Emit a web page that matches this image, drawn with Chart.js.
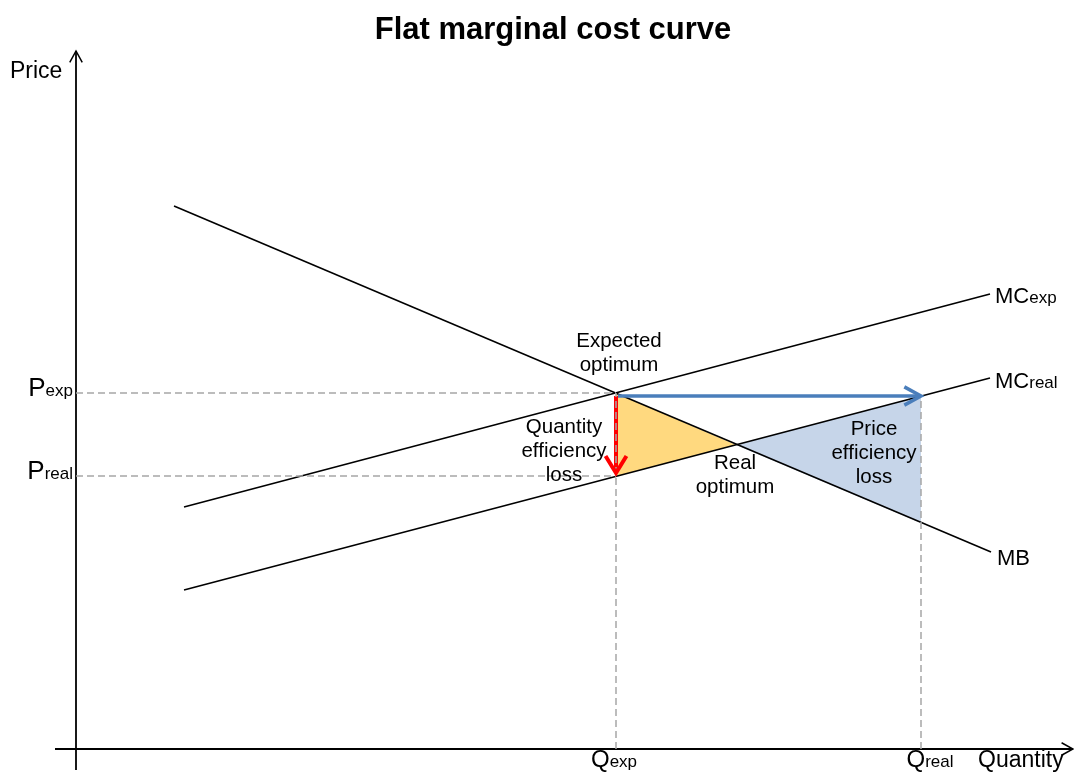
<!DOCTYPE html>
<html><head><meta charset="utf-8">
<script src="https://cdn.jsdelivr.net/npm/chart.js@4"></script>
<style>html,body{margin:0;padding:0;background:#fff}</style>
</head><body>
<canvas id="c" width="1074" height="773"></canvas>
<script>
// ---- values (quantity / price units) ----
const qExp = 54.0, qReal = 84.5;
const pExp = 35.6, pReal = 27.3;
const mbQ = [9.8, 91.5],      mbP = [54.3, 19.7];
const mcExpQ = [10.8, 91.4],  mcExpP = [24.2, 45.5];
const mcRealQ = [10.8, 91.4], mcRealP = [15.9, 37.1];
const realOptQ = 66.0, realOptP = 30.4;
const mbAtQReal = 22.6, mcRealAtQReal = 35.3;
const blueArrowQ = [54.2, 84.5], blueArrowP = [35.3, 35.3];
const redArrowQ = [54.0, 54.0],  redArrowP = [35.3, 27.6];
const xAxisQ = [-2.1, 99.7], xAxisP = [0, 0];
const yAxisQ = [0, 0],       yAxisP = [-2.1, 69.8];

const titleText = 'Flat marginal cost curve';
const blockLabels = [
  {lines:['Expected','optimum'], q:54.3, p:40.2},
  {lines:['Quantity','efficiency','loss'], q:48.8, p:31.6},
  {lines:['Real','optimum'], q:65.9, p:28.0},
  {lines:['Price','efficiency','loss'], q:79.8, p:31.4}
];
const subLabels = [
  {main:'P', sub:'exp',  q:-0.3, p:35.3, align:'right', big:26, small:17},
  {main:'P', sub:'real', q:-0.3, p:27.0, align:'right', big:26, small:17},
  {main:'Q', sub:'exp',  q:53.8, p:-1.8, align:'center', big:24, small:17},
  {main:'Q', sub:'real', q:85.4, p:-1.8, align:'center', big:24, small:17},
  {main:'MC', sub:'exp',  q:91.9, p:44.6, align:'left', big:22, small:17},
  {main:'MC', sub:'real', q:91.9, p:36.1, align:'left', big:22, small:17},
  {main:'MB', sub:'',     q:92.1, p:18.4, align:'left', big:22, small:17}
];
const axisLabels = [
  {text:'Price', q:-6.6, p:67.1},
  {text:'Quantity', q:90.2, p:-1.8}
];

const FONT = "'Liberation Sans', Arial, sans-serif";
const pts = (qs, ps) => qs.map((q,i)=>({x:q, y:ps[i]}));
const seg = (data, color, width, extra) => Object.assign({
  data, showLine:true, borderColor:color, backgroundColor:color, borderWidth:width,
  pointRadius:0, pointHoverRadius:0, fill:false, clip:false, tension:0
}, extra || {});
const GREY = '#A6A6A6', DASH = {borderDash:[7,4]};

const datasets = [
  seg(pts([0,qExp],[pExp,pExp]), GREY, 1.5, DASH),
  seg(pts([0,qExp],[pReal,pReal]), GREY, 1.5, DASH),
  seg(pts([qExp,qExp],[0,pExp]), GREY, 1.5, DASH),
  seg(pts([qReal,qReal],[0,mcRealAtQReal]), GREY, 1.5, DASH),
  seg(pts(redArrowQ, redArrowP), '#FF0000', 4, {arrowHead:{len:20, spread:0.55, width:4}}),
  seg(pts(blueArrowQ, blueArrowP), '#4A7EBB', 3.5, {arrowHead:{len:19, spread:0.5, width:3.5}}),
  seg(pts(mbQ, mbP), '#000', 1.6),
  seg(pts(mcExpQ, mcExpP), '#000', 1.6),
  seg(pts(mcRealQ, mcRealP), '#000', 1.6),
  seg(pts(xAxisQ, xAxisP), '#000', 1.8, {arrowHead:{len:13, spread:0.5, width:1.5}}),
  seg(pts(yAxisQ, yAxisP), '#000', 1.8, {arrowHead:{len:13, spread:0.5, width:1.5}}),
  seg([{x:qExp,y:pExp},{x:qExp,y:pReal},{x:realOptQ,y:realOptP}], '#FFD97F', 0, {fill:'shape', backgroundColor:'#FFD97F'}),
  seg([{x:realOptQ,y:realOptP},{x:qReal,y:mcRealAtQReal},{x:qReal,y:mbAtQReal}], '#C6D5E9', 0, {fill:'shape', backgroundColor:'#C6D5E9'})
];

const diagram = {
  id:'diagram',
  afterDatasetsDraw(chart){
    const {ctx, scales:{x, y}} = chart;
    chart.data.datasets.forEach((ds, i) => {
      if (!ds.arrowHead) return;
      const el = chart.getDatasetMeta(i).data;
      const a = el[el.length-2], b = el[el.length-1];
      const ang = Math.atan2(b.y-a.y, b.x-a.x);
      const {len, spread, width} = ds.arrowHead;
      ctx.save();
      ctx.strokeStyle = ds.borderColor; ctx.lineWidth = width;
      ctx.lineCap = 'butt'; ctx.lineJoin = 'miter';
      ctx.beginPath();
      ctx.moveTo(b.x - len*Math.cos(ang-spread), b.y - len*Math.sin(ang-spread));
      ctx.lineTo(b.x, b.y);
      ctx.lineTo(b.x - len*Math.cos(ang+spread), b.y - len*Math.sin(ang+spread));
      ctx.stroke();
      ctx.restore();
    });
    ctx.save();
    ctx.fillStyle = '#000';
    ctx.textBaseline = 'alphabetic';
    // title
    ctx.font = 'bold 31px ' + FONT;
    ctx.textAlign = 'center';
    ctx.fillText(titleText, 553, 39);
    // block labels
    ctx.font = '20.5px ' + FONT;
    blockLabels.forEach(b => {
      const px = x.getPixelForValue(b.q), py = y.getPixelForValue(b.p);
      b.lines.forEach((t, k) => ctx.fillText(t, px, py + k*24));
    });
    // axis labels
    ctx.font = '23px ' + FONT;
    ctx.textAlign = 'left';
    axisLabels.forEach(a => ctx.fillText(a.text, x.getPixelForValue(a.q), y.getPixelForValue(a.p)));
    // subscript labels
    subLabels.forEach(s => {
      ctx.font = s.big + 'px ' + FONT;
      const w1 = ctx.measureText(s.main).width;
      ctx.font = s.small + 'px ' + FONT;
      const w2 = s.sub ? ctx.measureText(s.sub).width : 0;
      const tw = w1 + w2;
      let px = x.getPixelForValue(s.q);
      if (s.align === 'right') px -= tw; else if (s.align === 'center') px -= tw/2;
      const py = y.getPixelForValue(s.p);
      ctx.textAlign = 'left';
      ctx.font = s.big + 'px ' + FONT;
      ctx.fillText(s.main, px, py);
      if (s.sub) { ctx.font = s.small + 'px ' + FONT; ctx.fillText(s.sub, px + w1, py); }
    });
    ctx.restore();
  }
};

new Chart(document.getElementById('c'), {
  type:'scatter',
  data:{datasets},
  options:{
    responsive:false, animation:false, events:[],
    layout:{padding:{left:76, right:8, top:59, bottom:24}},
    scales:{
      x:{type:'linear', min:0, max:99, display:false},
      y:{type:'linear', min:0, max:69, display:false}
    },
    plugins:{legend:{display:false}, tooltip:{enabled:false}, title:{display:false}}
  },
  plugins:[diagram]
});
</script>
</body></html>
